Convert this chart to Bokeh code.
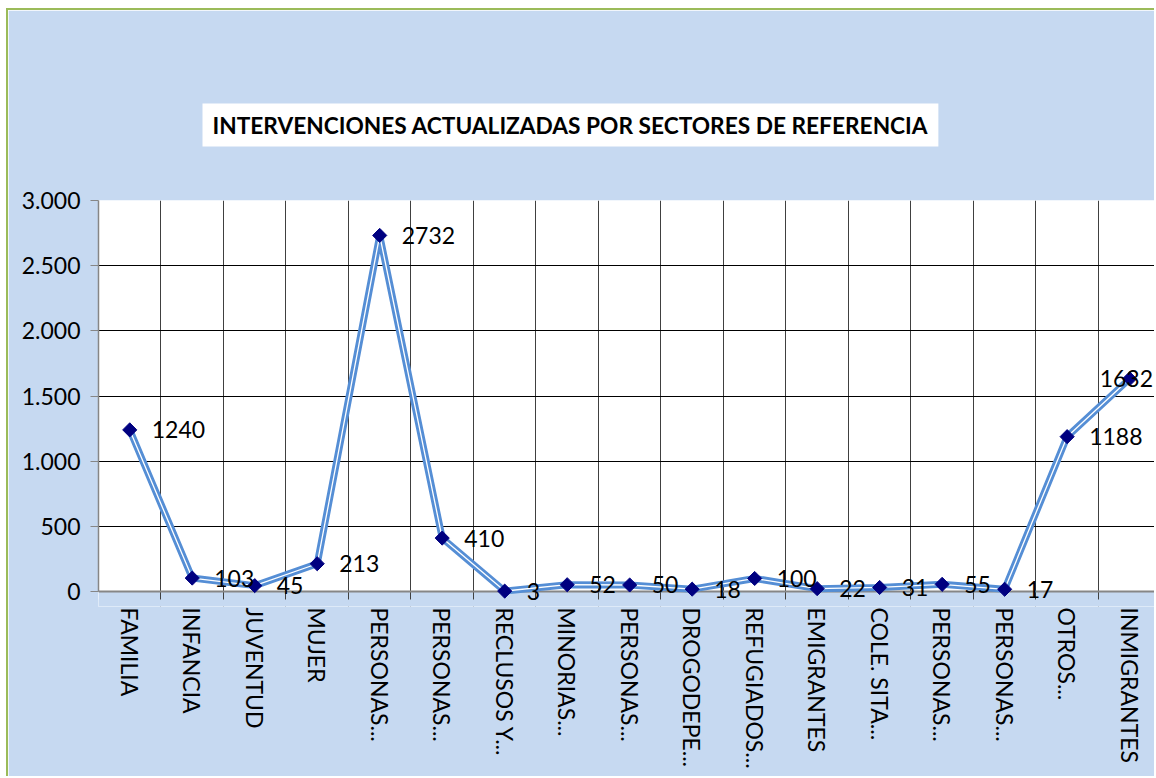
import numpy as np
from bokeh.plotting import figure
from bokeh.models import ColumnDataSource, FixedTicker, Range1d, Grid, Span, BoxAnnotation
from bokeh.core.properties import value
from bokeh.embed import file_html
from bokeh.resources import INLINE

# ---- data ----
categories = ["FAMILIA", "INFANCIA", "JUVENTUD", "MUJER", "PERSONAS...",
              "PERSONAS...", "RECLUSOS Y...", "MINORIAS...", "PERSONAS...",
              "DROGODEPE...", "REFUGIADOS...", "EMIGRANTES", "COLE. SITA...",
              "PERSONAS...", "PERSONAS...", "OTROS...", "INMIGRANTES"]
values = [1240, 103, 45, 213, 2732, 410, 3, 52, 50, 18, 100, 22, 31, 55, 17, 1188, 1632]
y_ticks = [0, 500, 1000, 1500, 2000, 2500, 3000]
y_tick_labels = ["0", "500", "1.000", "1.500", "2.000", "2.500", "3.000"]
title_text = "INTERVENCIONES ACTUALIZADAS POR SECTORES DE REFERENCIA"

FONT = "Lato"
BG = "#C6D9F1"
n = len(categories)
xs = list(range(n))
label_dx = [22] * (n - 1) + [-30]

# frame: 406 px tall; 0..3000 occupies 391 px, 15 px below zero for labels
Y_TOP = 3000
UNITS_PER_PX = Y_TOP / 391.0
Y_BOTTOM = -15 * UNITS_PER_PX
TICK_END = -8 * UNITS_PER_PX

src = ColumnDataSource(dict(x=xs, y=values, lab=[str(v) for v in values], dx=label_dx))

p = figure(width=1148, height=768, output_backend="svg", toolbar_location=None,
           x_range=Range1d(-0.5, 16.43), y_range=Range1d(Y_BOTTOM, Y_TOP),
           min_border_left=90, min_border_right=0, min_border_top=190,
           min_border_bottom=172)
p.styles = {"border-top": "2px solid #9BBB59", "border-left": "2px solid #9BBB59",
            "margin-left": "6px", "margin-top": "8px"}
p.background_fill_color = "white"
p.border_fill_color = BG
p.outline_line_color = None

# title
p.title.text = title_text
p.title.align = "left"
p.title.offset = 104
p.title.standoff = 108
p.title.text_font = FONT
p.title.text_font_style = "bold"
p.title.text_font_size = "22.7px"
p.title.text_color = "black"
p.title.background_fill_color = "white"
p.title.padding = (10, 8)

# x axis (labels only; axis line drawn as span at zero)
xa = p.xaxis[0]
xa.ticker = FixedTicker(ticks=xs, minor_ticks=[i - 0.5 for i in range(n + 1)])
xa.major_label_overrides = {i: c for i, c in enumerate(categories)}
xa.major_label_orientation = -np.pi / 2
xa.major_tick_line_color = None
xa.major_tick_out = 0
xa.major_tick_in = 0
xa.minor_tick_line_color = None
xa.minor_tick_out = 0
xa.minor_tick_in = 0
xa.axis_line_color = None
xa.major_label_standoff = 1
xa.major_label_text_font = FONT
xa.major_label_text_font_size = "23px"
xa.major_label_text_color = "black"

# y axis
ya = p.yaxis[0]
ya.ticker = FixedTicker(ticks=y_ticks)
ya.bounds = (0, Y_TOP)
ya.major_label_overrides = {t: l for t, l in zip(y_ticks, y_tick_labels)}
ya.axis_line_color = "#868686"
ya.axis_line_width = 1.5
ya.major_tick_line_color = "#868686"
ya.major_tick_out = 8
ya.major_tick_in = 0
ya.minor_tick_line_color = None
ya.major_label_standoff = 10
ya.major_label_text_font = FONT
ya.major_label_text_font_size = "23px"
ya.major_label_text_color = "black"

# blue background below zero (under the grid, so category boundary ticks show)
p.add_layout(BoxAnnotation(top=0, fill_color=BG, fill_alpha=1, line_color=None,
                           level="image"))

# grids
p.xgrid.grid_line_color = None
p.xgrid.minor_grid_line_color = "#404040"
p.xgrid.minor_grid_line_width = 1
p.ygrid.grid_line_color = "black"
p.ygrid.grid_line_width = 1
p.add_layout(Grid(dimension=1, ticker=FixedTicker(ticks=[Y_TOP]),
                  grid_line_color="#868686", grid_line_width=3))

# cover grid below tick length
p.add_layout(BoxAnnotation(top=TICK_END, fill_color=BG, fill_alpha=1, line_color=None,
                           level="underlay"))
# x axis line at zero
p.add_layout(Span(location=0, dimension="width", line_color="#868686", line_width=2,
                  level="underlay"))

# series
p.line("x", "y", source=src, line_color="#558ED5", line_width=7, line_join="round")
p.line("x", "y", source=src, line_color="white", line_width=1.3, line_join="round")
p.scatter("x", "y", source=src, marker="square", angle=np.pi / 4, size=10,
          fill_color="#000080", line_color="#000080")
p.text("x", "y", text="lab", source=src, x_offset="dx", text_align="left",
       text_baseline="middle", text_font=value(FONT), text_font_size="23px",
       text_color="black")

open("out.html", "w").write(file_html(p, INLINE))
